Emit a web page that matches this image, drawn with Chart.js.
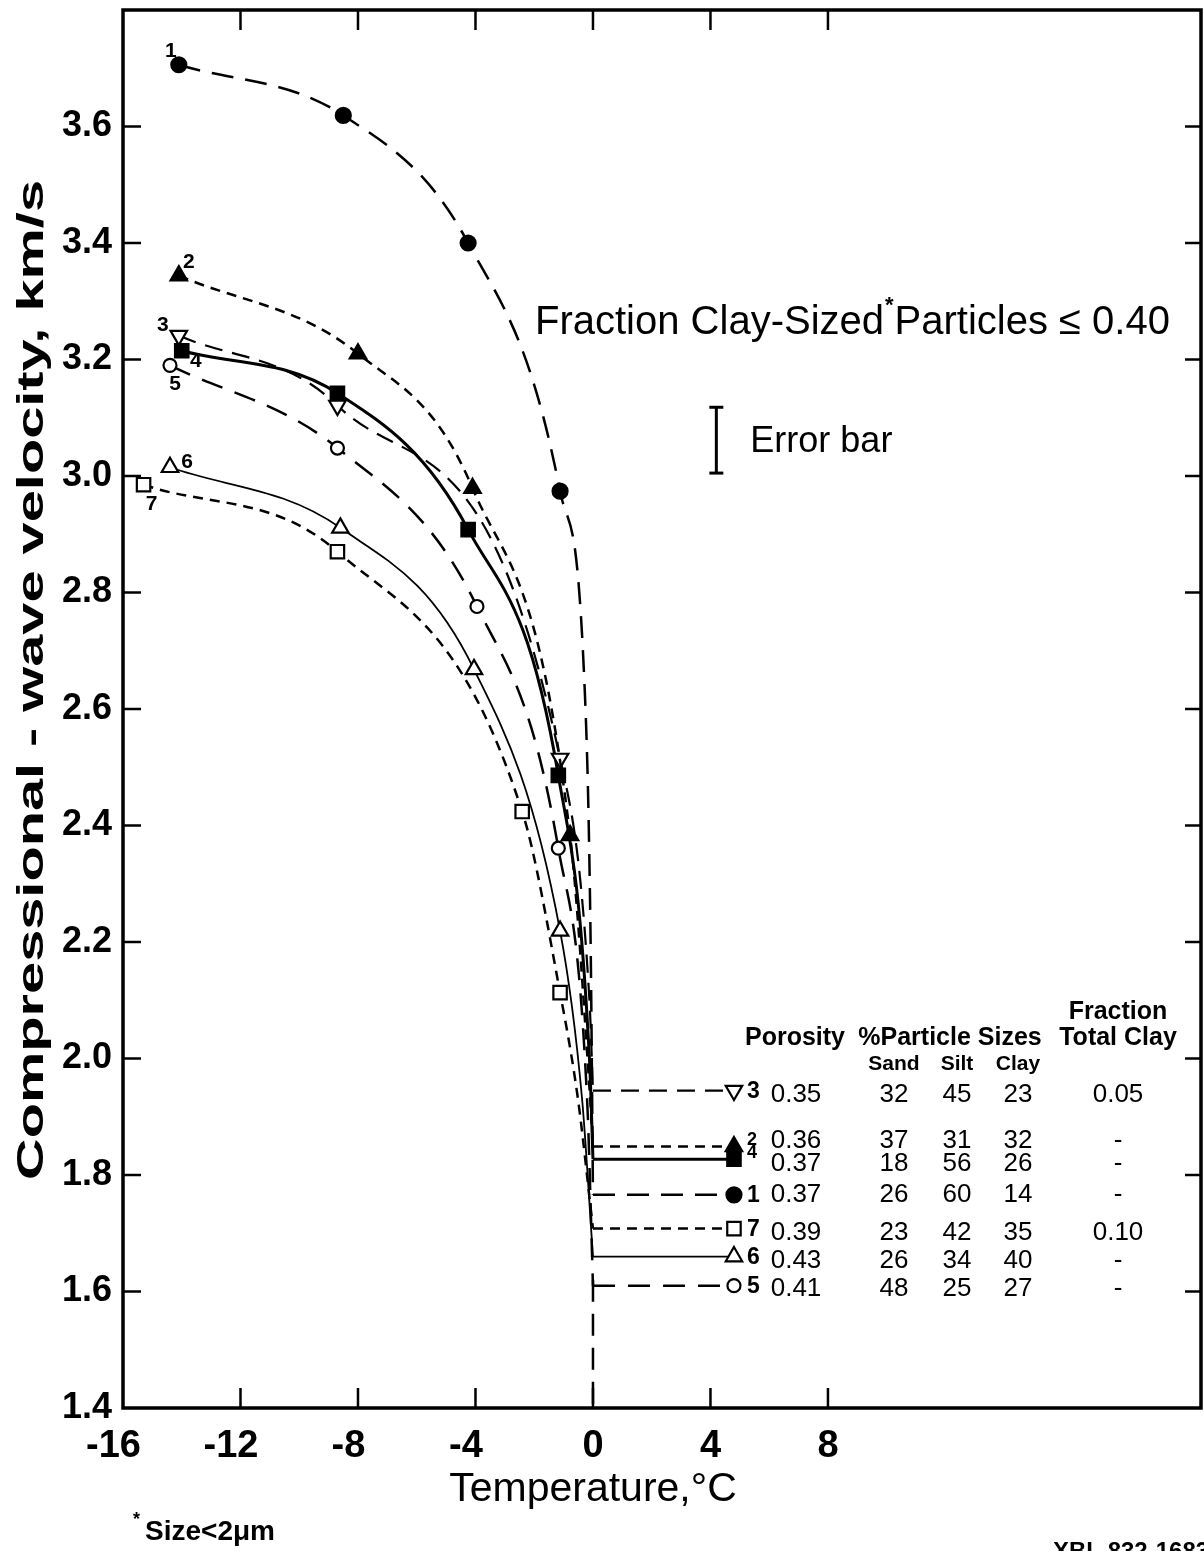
<!DOCTYPE html>
<html>
<head>
<meta charset="utf-8">
<title>Compressional-wave velocity vs temperature</title>
<script src="https://cdn.jsdelivr.net/npm/chart.js@4.4.0/dist/chart.umd.min.js"></script>
<style>
  body { margin: 0; background: #fff; }
  #wrap { width: 1204px; height: 1551px; }
</style>
</head>
<body>
<div id="wrap"><canvas id="chart" width="1204" height="1551"></canvas></div>
<script>
// measured points, temperature (°C) and velocity (km/s), samples 1..7
const temp1 = [-14.1, -8.5, -4.25, -1.12];
const vel1  = [3.706, 3.619, 3.40, 2.974];
const temp2 = [-14.1, -8.0, -4.1, -0.78];
const vel2  = [3.344, 3.21, 2.979, 2.383];
const temp3 = [-14.1, -8.7, -1.12];
const vel3  = [3.241, 3.121, 2.515];
const temp4 = [-14.0, -8.7, -4.25, -1.18];
const vel4  = [3.215, 3.142, 2.908, 2.486];
const temp5 = [-14.4, -8.7, -3.95, -1.18];
const vel5  = [3.19, 3.048, 2.776, 2.361];
const temp6 = [-14.4, -8.6, -4.05, -1.12];
const vel6  = [3.015, 2.911, 2.668, 2.219];
const temp7 = [-15.3, -8.7, -2.41, -1.12];
const vel7  = [2.985, 2.870, 2.424, 2.113];

// where the drawn curves run just below 0 °C
const traceT1 = [-0.27, -0.08]; const traceV1 = [2.62, 2.2];
const traceT2 = [-0.12];        const traceV2 = [1.95];
const traceT3 = [-0.12];        const traceV3 = [2.1];
const traceT4 = [-0.12];        const traceV4 = [2.0];
const traceT5 = [-0.2];         const traceV5 = [1.93];
const traceT6 = [-0.37];        const traceV6 = [1.93];
const traceT7 = [-0.51];        const traceV7 = [1.93];

// unfrozen velocity at 0 °C, samples 1..7
const thawedVel = [1.766, 1.849, 1.945, 1.827, 1.61, 1.66, 1.708];
const legendTemp = 4.8;

// sample table, samples 1..7
const sampleIds  = ['1', '2', '3', '4', '5', '6', '7'];
const porosity   = ['0.37', '0.36', '0.35', '0.37', '0.41', '0.43', '0.39'];
const sandPct    = ['26', '37', '32', '18', '48', '26', '23'];
const siltPct    = ['60', '31', '45', '56', '25', '34', '42'];
const clayPct    = ['14', '32', '23', '26', '27', '40', '35'];
const totalClay  = ['-', '-', '0.05', '-', '-', '-', '0.10'];
const tableOrder = [2, 1, 3, 0, 6, 5, 4];   // rows top to bottom

// error bar
const errTemp = 4.2;
const errVel  = [3.005, 3.118];

// tick labels
const xTicks = [-16, -12, -8, -4, 0, 4, 8];
const yTicks = [1.4, 1.6, 1.8, 2.0, 2.2, 2.4, 2.6, 2.8, 3.0, 3.2, 3.4, 3.6];

const temps  = [temp1, temp2, temp3, temp4, temp5, temp6, temp7];
const vels   = [vel1, vel2, vel3, vel4, vel5, vel6, vel7];
const traceT = [traceT1, traceT2, traceT3, traceT4, traceT5, traceT6, traceT7];
const traceV = [traceV1, traceV2, traceV3, traceV4, traceV5, traceV6, traceV7];

const FONT = "'Liberation Sans', Arial, sans-serif";

// line and marker style for each sample
const styles = [
    { dash: [22, 12], w: 2.5, shape: 'circle',   rot: 0,   fill: true,  r: 7.5 },
    { dash: [10, 7],  w: 2.5, shape: 'triangle', rot: 0,   fill: true,  r: 9.5 },
    { dash: [18, 10], w: 2.2, shape: 'triangle', rot: 180, fill: false, r: 9.5 },
    { dash: [],       w: 3,   shape: 'rect',     rot: 0,   fill: true,  r: 9.5 },
    { dash: [22, 13], w: 2.5, shape: 'circle',   rot: 0,   fill: false, r: 6.5 },
    { dash: [],       w: 1.8, shape: 'triangle', rot: 0,   fill: false, r: 9.5 },
    { dash: [10, 7],  w: 2.5, shape: 'rect',     rot: 0,   fill: false, r: 9.5 }
];

function buildDatasets()
{
    let sets = [];
    for (let i = 0; i < 7; i++)
    {
        let st = styles[i];
        let measured = temps[i].map((t, k) => ({ x: t, y: vels[i][k] }));
        let trace = traceT[i].map((t, k) => ({ x: t, y: traceV[i][k] }));
        let n = measured.length;

        // curve through the measurements down to 0 °C
        sets.push({
            data: measured.concat(trace, [{ x: 0, y: thawedVel[i] }]),
            showLine: true,
            cubicInterpolationMode: 'monotone',
            borderColor: '#000',
            borderWidth: st.w,
            borderDash: st.dash,
            pointStyle: st.shape,
            pointRotation: st.rot,
            pointRadius: ctx => ctx.dataIndex < n ? st.r : 0,
            pointBackgroundColor: st.fill ? '#000' : '#fff',
            pointBorderColor: '#000',
            pointBorderWidth: 2.2
        });

        // horizontal line out to the table marker
        sets.push({
            data: [{ x: 0, y: thawedVel[i] }, { x: legendTemp, y: thawedVel[i] }],
            showLine: true,
            borderColor: '#000',
            borderWidth: st.w,
            borderDash: st.dash,
            pointStyle: st.shape,
            pointRotation: st.rot,
            pointRadius: ctx => ctx.dataIndex === 1 ? st.r : 0,
            pointBackgroundColor: st.fill ? '#000' : '#fff',
            pointBorderColor: '#000',
            pointBorderWidth: 2.2
        });
    }

    // 0 °C line below the thawed values
    sets.push({
        data: [{ x: 0, y: 1.62 }, { x: 0, y: 1.4 }],
        showLine: true,
        borderColor: '#000',
        borderWidth: 2.5,
        borderDash: [22, 12],
        pointRadius: 0
    });
    return sets;
}

// number labels next to the first markers (pixel offsets)
const firstLabelOffset = [[-8, -14], [10, -13], [-16, -10], [14, 10], [5, 19], [17, -5], [8, 19]];
// row shifts of the table text against the lines
const rowShift = [0, -6, 4, 5, 3, 4, 4];

function line(ctx, x1, y1, x2, y2)
{
    ctx.beginPath();
    ctx.moveTo(x1, y1);
    ctx.lineTo(x2, y2);
    ctx.stroke();
}

const annotate = {
    id: 'annotate',
    afterDraw(chart)
    {
        const ctx = chart.ctx;
        const a = chart.chartArea;
        const xs = chart.scales.x;
        const ys = chart.scales.y;
        ctx.save();
        ctx.strokeStyle = '#000';
        ctx.fillStyle = '#000';
        ctx.setLineDash([]);

        // frame
        ctx.lineWidth = 3.5;
        ctx.strokeRect(a.left, a.top, a.right - a.left, a.bottom - a.top);

        // inward tick marks
        ctx.lineWidth = 2.5;
        ys.ticks.forEach(t => {
            if (t.value > 1.45 && t.value < 3.75) {
                let py = ys.getPixelForValue(t.value);
                line(ctx, a.left, py, a.left + 18, py);
                line(ctx, a.right, py, a.right - 16, py);
            }
        });
        xs.ticks.forEach(t => {
            if (t.value > -15.9 && t.value <= 8.1) {
                let px = xs.getPixelForValue(t.value);
                line(ctx, px, a.bottom, px, a.bottom - 20);
                line(ctx, px, a.top, px, a.top + 20);
            }
        });

        // sample numbers at first markers
        ctx.font = 'bold 21px ' + FONT;
        ctx.textAlign = 'center';
        ctx.textBaseline = 'middle';
        for (let i = 0; i < 7; i++) {
            let px = xs.getPixelForValue(temps[i][0]);
            let py = ys.getPixelForValue(vels[i][0]);
            ctx.fillText(sampleIds[i], px + firstLabelOffset[i][0], py + firstLabelOffset[i][1]);
        }

        // table
        let lx = xs.getPixelForValue(legendTemp);
        ctx.font = 'bold 25px ' + FONT;
        ctx.fillText('Fraction', 1118, 1012);
        ctx.fillText('Total Clay', 1118, 1038);
        ctx.fillText('Porosity', 795, 1038);
        ctx.fillText('%Particle Sizes', 950, 1038);
        ctx.font = 'bold 21px ' + FONT;
        ctx.fillText('Sand', 894, 1064);
        ctx.fillText('Silt', 957, 1064);
        ctx.fillText('Clay', 1018, 1064);

        tableOrder.forEach(i => {
            let py = ys.getPixelForValue(thawedVel[i]) + rowShift[i];
            let sup = (i === 1 || i === 3);
            ctx.font = 'bold ' + (sup ? 18 : 23) + 'px ' + FONT;
            ctx.textAlign = 'left';
            ctx.fillText(sampleIds[i], lx + 13, ys.getPixelForValue(thawedVel[i]) + (sup ? -6 : 1));
            ctx.font = '26px ' + FONT;
            ctx.textAlign = 'center';
            ctx.fillText(porosity[i], 796, py);
            ctx.fillText(sandPct[i], 894, py);
            ctx.fillText(siltPct[i], 957, py);
            ctx.fillText(clayPct[i], 1018, py);
            ctx.fillText(totalClay[i], 1118, py);
        });

        // heading
        ctx.textAlign = 'left';
        ctx.textBaseline = 'alphabetic';
        ctx.font = '40px ' + FONT;
        let hx = 535, hy = 334;
        let p1 = 'Fraction Clay-Sized';
        ctx.fillText(p1, hx, hy);
        hx += ctx.measureText(p1).width + 1;
        ctx.font = 'bold 22px ' + FONT;
        ctx.fillText('*', hx, hy - 22);
        hx += ctx.measureText('*').width + 1;
        ctx.font = '40px ' + FONT;
        ctx.fillText('Particles \u2264 0.40', hx, hy);

        // error bar
        let ex = xs.getPixelForValue(errTemp);
        let e0 = ys.getPixelForValue(errVel[0]);
        let e1 = ys.getPixelForValue(errVel[1]);
        ctx.lineWidth = 3;
        line(ctx, ex, e0, ex, e1);
        line(ctx, ex - 7, e0, ex + 7, e0);
        line(ctx, ex - 7, e1, ex + 7, e1);
        ctx.font = '36px ' + FONT;
        ctx.textBaseline = 'middle';
        ctx.fillText('Error bar', ex + 34, (e0 + e1) / 2 + 2);

        // axis titles
        ctx.save();
        ctx.translate(33, 680);
        ctx.rotate(-Math.PI / 2);
        ctx.font = 'bold 37px ' + FONT;
        let yt = 'Compressional - wave velocity, km/s';
        let sx = 1000 / ctx.measureText(yt).width;
        ctx.scale(sx, 1);
        ctx.textAlign = 'center';
        ctx.fillText(yt, 0, 0);
        ctx.restore();

        ctx.textAlign = 'center';
        ctx.font = '41px ' + FONT;
        ctx.fillText('Temperature,\u00B0C', xs.getPixelForValue(0), 1490);

        // footnotes
        ctx.textAlign = 'left';
        ctx.font = 'bold 18px ' + FONT;
        ctx.fillText('*', 133, 1520);
        ctx.font = 'bold 28px ' + FONT;
        ctx.fillText('Size<2\u03BCm', 145, 1532);
        ctx.font = 'bold 24px ' + FONT;
        ctx.textBaseline = 'top';
        ctx.fillText('XBL 832-1683', 1053, 1540);

        ctx.restore();
    }
};

document.addEventListener('DOMContentLoaded', () =>
{
    Chart.defaults.font.family = FONT;
    Chart.defaults.color = '#000';

    new Chart(document.getElementById('chart').getContext('2d'),
    {
        type: 'scatter',
        data: { datasets: buildDatasets() },
        options:
        {
            responsive: false,
            animation: false,
            events: [],
            layout: { autoPadding: false, padding: { top: 10, right: 3, left: 0, bottom: 0 } },
            plugins: { legend: { display: false }, tooltip: { enabled: false } },
            scales:
            {
                x:
                {
                    type: 'linear',
                    min: -16,
                    max: 20.7,
                    grid: { display: false },
                    border: { display: false },
                    ticks:
                    {
                        stepSize: 4,
                        includeBounds: false,
                        padding: 8,
                        font: { size: 38, weight: 'bold' },
                        callback: v => xTicks.includes(v) ? (v < 0 ? v + '\u2002' : String(v)) : ''
                    },
                    afterFit: s => { s.height = 143; s.paddingLeft = 0; s.paddingRight = 0; }
                },
                y:
                {
                    type: 'linear',
                    min: 1.4,
                    max: 3.8,
                    grid: { display: false },
                    border: { display: false },
                    ticks:
                    {
                        stepSize: 0.2,
                        padding: 3,
                        font: { size: 36, weight: 'bold' },
                        callback: v => yTicks.some(t => Math.abs(t - v) < 1e-6) ? v.toFixed(1) : ''
                    },
                    afterFit: s => { s.width = 123; s.paddingTop = 0; s.paddingBottom = 0; }
                }
            }
        },
        plugins: [annotate]
    });
});
</script>
</body>
</html>
